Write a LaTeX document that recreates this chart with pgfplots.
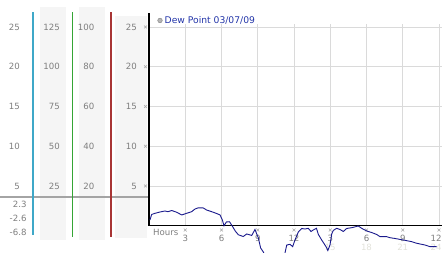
\documentclass[border=0pt]{standalone}
\usepackage{pgfplots}
\pgfplotsset{compat=1.18}
\usepackage{fontspec}
\setmainfont{DejaVu Sans}
\definecolor{stripc}{HTML}{F5F5F5}
\definecolor{cyanl}{HTML}{3FA8C8}
\definecolor{greenl}{HTML}{35A535}
\definecolor{redl}{HTML}{A83535}
\definecolor{basel}{HTML}{A4A4A4}
\definecolor{gridc}{HTML}{DADADA}
\definecolor{labc}{HTML}{7E7E7E}
\definecolor{faintc}{HTML}{E2E2DA}
\definecolor{markc}{HTML}{A8A8A8}
\definecolor{datac}{HTML}{1A1A8C}
\definecolor{legc}{HTML}{2234A8}
\newcommand{\lab}{\fontsize{8.6}{10}\selectfont}
\tikzset{
  lbl/.style={anchor=east, inner sep=0pt, text=labc, font=\lab},
  xl/.style={anchor=center, inner sep=0pt, text=labc, font=\lab},
  fl/.style={anchor=center, inner sep=0pt, text=faintc, font=\lab},
  mk/.pic={\draw[markc, line width=0.55pt] (-1.4pt,-1.4pt) -- (1.4pt,1.4pt) (-1.4pt,1.4pt) -- (1.4pt,-1.4pt);}
}
\begin{document}
\begin{tikzpicture}
\path[use as bounding box] (0pt,0pt) rectangle (442pt,253pt);
% grid axis
\begin{axis}[at={(149pt,27.3pt)}, anchor=south west, scale only axis,
  width=293pt, height=201.7pt, xmin=0, xmax=24.25, ymin=0, ymax=25.37,
  xtick={3,6,9,12,15,18,21,24}, ytick={5,10,15,20,25},
  grid=major, major grid style={gridc, line width=0.8pt},
  axis line style={draw=none}, tick style={draw=none},
  xticklabels={}, yticklabels={}]
\addplot[draw=none] coordinates {(0,0)};
\end{axis}
% left strips
\fill[stripc] (40pt,13pt) rectangle (66pt,246pt);
\fill[stripc] (79pt,13pt) rectangle (105pt,246pt);
\fill[stripc] (115pt,15pt) rectangle (147pt,237pt);
\draw[basel, line width=2pt] (0pt,56pt) -- (149pt,56pt);
\draw[cyanl, line width=1.1pt] (33pt,18pt) -- (33pt,241pt);
\draw[greenl, line width=1.1pt] (72.5pt,16pt) -- (72.5pt,241pt);
\draw[redl, line width=1.1pt] (111pt,16pt) -- (111pt,241pt);
% column labels
\foreach \v/\a/\b/\c in {25/125/100/25, 20/100/80/20, 15/75/60/15, 10/50/40/10, 5/25/20/5}{
  \pgfmathsetmacro{\Y}{27.3+7.95*\v}
  \node[lbl] at (20pt,\Y pt) {\v};
  \node[lbl] at (60pt,\Y pt) {\a};
  \node[lbl] at (94.5pt,\Y pt) {\b};
  \node[lbl] at (137pt,\Y pt) {\c};
  \pic at (145.5pt,\Y pt) {mk};
}
\node[lbl] at (26.7pt,49pt) {2.3};
\node[lbl] at (26.7pt,34.5pt) {-2.6};
\node[lbl] at (26.7pt,21pt) {-6.8};
% main axis lines
\draw[black, line width=1.2pt] (149pt,27.3pt) -- (149pt,240pt);
\draw[black, line width=1.2pt] (149pt,27.3pt) -- (442pt,27.3pt);
% x labels
\node[anchor=west, inner sep=0pt, text=labc, font=\lab] at (153pt,21pt) {Hours};
\foreach \h/\t in {3/3, 6/6, 9/9, 12/12, 15/3, 18/6, 21/9}{
  \pgfmathsetmacro{\X}{149+12.083*\h}
  \pic at (\X pt,23pt) {mk};
  \node[xl] at (\X pt,14.5pt) {\t};
}
\pic at (439pt,23pt) {mk};
\node[anchor=east, inner sep=0pt, text=labc, font=\lab] at (441.8pt,14.5pt) {12};
\foreach \h in {15,18,21}{
  \pgfmathsetmacro{\X}{149+12.083*\h}
  \node[fl] at (\X pt,6pt) {\h};
}
\node[anchor=east, inner sep=0pt, text=faintc, font=\lab] at (441.8pt,6pt) {24};
% legend
\fill[basel!80, draw=labc, line width=0.4pt] (160pt,232.5pt) circle (2.3pt);
\node[anchor=west, inner sep=0pt, text=legc, font=\fontsize{9.2}{11}\selectfont] at (164.5pt,232.5pt) {Dew Point 03/07/09};
% data axis
\begin{axis}[at={(149pt,0pt)}, anchor=south west, scale only axis,
  width=290pt, height=240pt, xmin=0, xmax=24, ymin=-3.434, ymax=26.75,
  hide axis]
\addplot[datac, line width=0.9pt] coordinates {
(0.08,0.72) (0.22,1.41) (0.50,1.56) (0.91,1.72) (1.32,1.85) (1.57,1.76)
(1.88,1.91) (2.29,1.69) (2.71,1.35) (3.12,1.56) (3.53,1.76) (3.81,2.10)
(4.08,2.25) (4.49,2.23) (4.77,1.97) (5.19,1.76) (5.60,1.53) (5.88,1.35)
(6.07,0.72) (6.21,0.00) (6.41,0.47) (6.66,0.50) (6.89,-0.04) (7.14,-0.67)
(7.39,-1.14) (7.80,-1.36) (8.09,-1.04) (8.50,-1.23) (8.77,-0.48) (9.05,-1.55)
(9.24,-2.81) (9.46,-3.31) (9.8,-4.3) (10.2,-5.6) (10.6,-6.8) (10.9,-5.9)
(11.2,-3.8) (11.40,-2.43) (11.67,-2.34) (11.89,-2.64) (12.08,-1.80) (12.36,-0.79)
(12.64,-0.35) (12.91,-0.42) (13.18,-0.33) (13.41,-0.73) (13.66,-0.48) (13.86,-0.33)
(14.01,-1.08) (14.29,-1.80) (14.48,-2.24) (14.65,-2.64) (14.80,-3.12) (14.98,-2.43)
(15.12,-1.04) (15.25,-0.60) (15.53,-0.33) (15.81,-0.48) (16.08,-0.73) (16.36,-0.35)
(16.78,-0.25) (17.32,-0.04) (17.60,-0.33) (18.02,-0.67) (18.43,-0.86) (18.85,-1.11)
(19.12,-1.38) (19.67,-1.38) (19.94,-1.51) (20.36,-1.61) (21.05,-1.80) (21.74,-2.01)
(22.15,-2.21) (22.84,-2.43) (23.26,-2.64) (23.81,-2.64)
};
\end{axis}
\end{tikzpicture}
\end{document}
